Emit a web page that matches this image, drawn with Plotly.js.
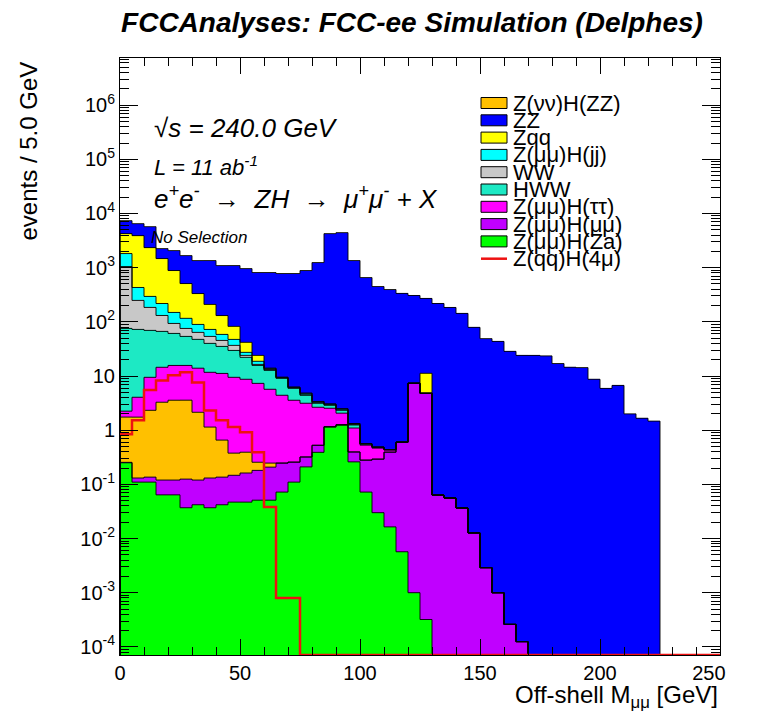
<!DOCTYPE html>
<html><head><meta charset="utf-8">
<script src="https://cdn.plot.ly/plotly-3.0.1.min.js"></script>
<style>html,body{margin:0;padding:0;background:#fff}#plot{width:767px;height:718px}</style>
</head><body><div id="plot"></div>
<script>
// ---- data: bin low edges (GeV), 5 GeV bins ----
const binLow = [0,5,10,15,20,25,30,35,40,45,50,55,60,65,70,75,80,85,90,95,100,105,110,115,120,125,130,135,140,145,150,155,160,165,170,175,180,185,190,195,200,205,210,215,220,225,230,235,240,245];
const binWidth = 5;

// components of the stack (events / 5 GeV), bottom -> top
const zmmHza = [0.25,0.11,0.11,0.064,0.064,0.037,0.042,0.037,0.042,0.047,0.047,0.051,0.051,0.072,0.11,0.21,0.39,1.14,1.24,0.26,0.072,0.030,0.0164,0.0057,0.001,0.00032,0,0,0,0,0,0,0,0,0,0,0,0,0,0,0,0,0,0,0,0,0,0,0,0];
const zmmHmm = [0.005,0.021,0.026,0.056,0.056,0.088,0.078,0.094,0.094,0.10,0.115,0.13,0.157,0.175,0.147,0.11,0.136,0.02,0.02,0.136,0.208,0.262,0.377,0.595,7.34,4.80,0.0635,0.056,0.0366,0.0127,0.0029,0.001,0.00026,0.000125,0,0,0,0,0,0,0,0,0,0,0,0,0,0,0,0];
const znnHzz = [1.49,1.61,2.19,3.16,3.45,3.45,2.02,1.01,0.52,0.23,0.23,0.075,0.039,0,0,0,0,0,0,0,0,0,0,0,0,0,0,0,0,0,0,0,0,0,0,0,0,0,0,0,0,0,0,0,0,0,0,0,0,0];
const zmmHtt = [0.50,2.31,7.13,11.2,12.1,12.1,11.8,10.56,10.5,9.08,8.31,7.06,5.44,4.16,3.31,2.82,2.12,1.38,0.80,0.70,0.249,0.174,0.035,0,0,0,0,0,0,0,0,0,0,0,0,0,0,0,0,0,0,0,0,0,0,0,0,0,0,0];
const hww    = [73.3,68.4,60.0,52.1,45.4,38.1,33.5,28.3,24.0,20.2,13.4,8.36,7.0,4.66,2.36,1.27,0.49,0.35,0.27,0.15,0.03,0.02,0.01,0,0,0,0,0,0,0,0,0,0,0,0,0,0,0,0,0,0,0,0,0,0,0,0,0,0,0];
const ww     = [972,176,115,64.4,32.3,21.7,16.4,13.8,10.2,7.1,1.9,0.7,0.5,0.2,0.15,0.1,0.1,0.05,0.05,0.03,0,0,0,0,0,0,0,0,0,0,0,0,0,0,0,0,0,0,0,0,0,0,0,0,0,0,0,0,0,0];
const zmmHjj = [773,182,110,87,55.6,40.5,25.7,18.6,13.2,10.6,3.3,2.3,0.7,0.2,0.15,0.3,0.15,0.1,0.1,0.05,0,0,0,0,0,0,0,0,0,0,0,0,0,0,0,0,0,0,0,0,0,0,0,0,0,0,0,0,0,0];
const zqq    = [2430,3470,2051,1254,736,393,243,137,72,35,14.5,5.3,0,0,0,0,0,0,0,0,0,0,0,0,0,6.4,0,0,0,0,0,0,0,0,0,0,0,0,0,0,0,0,0,0,0,0,0,0,0,0];
const zz     = [3120,2590,3365,778,1180,1161,1019,1143,962,1011,920,789,799,770,773,880,1239,4245,4427,1351,656,448,394,334,299,259,218,184,143,79,49,43.5,28.5,24,24,23.5,17,14.5,14.3,8.7,5.9,6.7,2.0,1.66,1.47,0,0,0,0,0];
// overlaid (not stacked) signal
const zqqH4m = [0.84,1.53,5.5,8.3,10.3,11.7,7.6,2.3,1.53,1.14,0.92,0.39,0.038,0.0008,0.0008,0,0,0,0,0,0,0,0,0,0,0,0,0,0,0,0,0,0,0,0,0,0,0,0,0,0,0,0,0,0,0,0,0,0,0];

const xTickVals = [0,50,100,150,200,250];
const xTickText = ['0','50','100','150','200','250\u00a0\u00a0\u00a0\u00a0'];
const yTickVals = [1e-4,1e-3,1e-2,1e-1,1,10,1e2,1e3,1e4,1e5,1e6];
const yTickText = ['10<sup>-4</sup>','10<sup>-3</sup>','10<sup>-2</sup>','10<sup>-1</sup>','1','10','10<sup>2</sup>','10<sup>3</sup>','10<sup>4</sup>','10<sup>5</sup>','10<sup>6</sup>'];

const legendNames = ['Z(νν)H(ZZ)','ZZ','Zqq','Z(μμ)H(jj)','WW','HWW','Z(μμ)H(ττ)','Z(μμ)H(μμ)','Z(μμ)H(Za)','Z(qq)H(4μ)'];

// ---- styles ----
const C = {za:'#00ff00', mm:'#c000ff', zz4:'#ffc000', tt:'#ff00ff', hww:'#1de9c4', ww:'#c8c8c8', jj:'#00ffff', zqq:'#ffff00', zz:'#0000ff', red:'#ee1111'};
const FONT = 'Liberation Sans, Arial, Helvetica, sans-serif';
const yRange = [-4.15, 6.87];
const floorVal = Math.pow(10, yRange[0]);

const stack = [
  {v: zmmHza, c: C.za}, {v: zmmHmm, c: C.mm}, {v: znnHzz, c: C.zz4}, {v: zmmHtt, c: C.tt},
  {v: hww, c: C.hww}, {v: ww, c: C.ww}, {v: zmmHjj, c: C.jj}, {v: zqq, c: C.zqq}, {v: zz, c: C.zz}
];

const centers = binLow.map(b => b + binWidth/2);
const lastEdge = binLow[binLow.length-1] + binWidth;
function stepXY(vals, fromFloor) {
  const v = vals.map(y => (y > floorVal ? y : floorVal));
  const xs = binLow.concat([lastEdge]);
  const ys = v.concat([v[v.length-1]]);
  if (fromFloor) return {x: [binLow[0]].concat(xs), y: [floorVal].concat(ys)};
  return {x: xs, y: ys};
}

const traces = [];
stack.forEach(s => {
  traces.push({type:'bar', x: centers, y: s.v, width: binWidth, marker:{color: s.c, line:{width:0}},
               hoverinfo:'skip', showlegend:false});
});
// outlines of cumulative sums
let cum = binLow.map(() => 0);
stack.forEach(s => {
  cum = cum.map((c, i) => c + s.v[i]);
  const st = stepXY(cum, true);
  traces.push({type:'scatter', mode:'lines', x: st.x, y: st.y,
               line:{shape:'hv', color:'rgba(0,0,0,0.9)', width:1}, hoverinfo:'skip', showlegend:false});
});
const rs = stepXY(zqqH4m, false);
traces.push({type:'scatter', mode:'lines', x: rs.x, y: rs.y,
             line:{shape:'hv', color: C.red, width:2.5}, hoverinfo:'skip', showlegend:false});

// ---- layout helpers (plot frame in pixels) ----
const L = 120, R = 720, T = 58, B = 655;
const px = x => (x - L) / (R - L);
const py = y => (B - y) / (B - T);

const annotations = [];
const shapes = [];
function txt(text, x, y, size, opts) {
  annotations.push(Object.assign({xref:'paper', yref:'paper', x: px(x), y: py(y), text: text, showarrow:false,
    xanchor:'left', yanchor:'middle', font:{family: FONT, size: size, color:'#000'}}, opts || {}));
}
// physics labels
txt('<i>√s = 240.0 GeV</i>', 152, 128, 26);
txt('<i>L = 11 ab<sup>-1</sup></i>', 152, 166, 22);
txt('<i>e<sup>+</sup>e<sup>-</sup>  →  ZH  →  μ<sup>+</sup>μ<sup>-</sup> + X</i>', 152, 197, 26);
txt('<i>No Selection</i>', 149, 238, 17);
// axis titles
txt('Off-shell M<sub>μμ</sub> [GeV]', 720, 696, 24, {xanchor:'right'});
txt('events / 5.0 GeV', 28, 60, 24, {xanchor:'center', yanchor:'top', textangle:-90});

// legend
const legColors = [C.zz4, C.zz, C.zqq, C.jj, C.ww, C.hww, C.tt, C.mm, C.za];
const legY0 = 103, legDY = 17.3;
legendNames.forEach((n, i) => {
  const yc = legY0 + i*legDY;
  if (i < legColors.length) {
    shapes.push({type:'rect', xref:'paper', yref:'paper', x0: px(481), x1: px(507), y0: py(yc+5.5), y1: py(yc-5.5),
                 fillcolor: legColors[i], line:{color:'#000', width:1}});
  } else {
    shapes.push({type:'line', xref:'paper', yref:'paper', x0: px(481), x1: px(507), y0: py(yc), y1: py(yc),
                 line:{color: C.red, width:2.5}});
  }
  txt(n, 511, yc, 22);
});

const layout = {
  width: 767, height: 718,
  margin: {l: L, r: 767 - R, t: T, b: 718 - B, pad: 0},
  paper_bgcolor:'#fff', plot_bgcolor:'#fff',
  barmode:'stack', bargap:0, showlegend:false,
  title: {text:'<b><i>FCCAnalyses: FCC-ee Simulation (Delphes)</i></b>', x: 412/767, xref:'container', y: 1 - 22/718, yref:'container',
          xanchor:'center', yanchor:'middle', font:{family: FONT, size: 28, color:'#000'}},
  xaxis: {range:[0,250], tickmode:'array', tickvals: xTickVals, ticktext: xTickText, ticks:'inside', ticklen:16, tickwidth:1, tickcolor:'#000',
          showline:true, linecolor:'#000', linewidth:1, mirror:'allticks', showgrid:false, zeroline:false,
          tickfont:{family: FONT, size: 20, color:'#000'},
          minor:{ticks:'inside', ticklen:8, tickmode:'linear', dtick:10, tick0:0, tickcolor:'#000', showgrid:false}},
  yaxis: {type:'log', range: yRange, tickmode:'array', tickvals: yTickVals, ticktext: yTickText,
          ticks:'inside', ticklen:18, tickwidth:1, tickcolor:'#000',
          showline:true, linecolor:'#000', linewidth:1, mirror:'allticks', showgrid:false, zeroline:false,
          tickfont:{family: FONT, size: 20, color:'#000'},
          minor:{ticks:'inside', ticklen:9, tickmode:'linear', dtick:'D1', tickcolor:'#000', showgrid:false}},
  annotations: annotations, shapes: shapes
};

Plotly.newPlot('plot', traces, layout, {staticPlot:true, displayModeBar:false});
</script>
</body></html>
